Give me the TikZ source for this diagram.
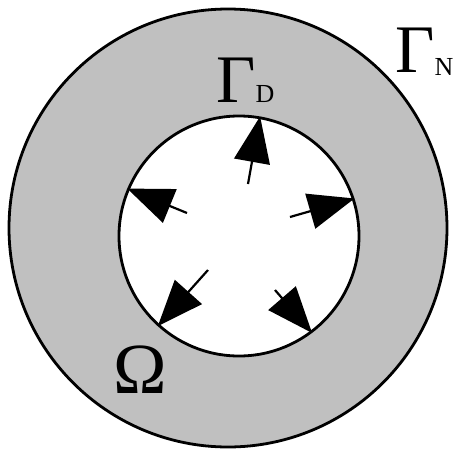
\documentclass[tikz,border=0pt]{standalone}
\usepackage{fontspec}
\setmainfont{Liberation Serif}
\usetikzlibrary{arrows.meta}
\definecolor{ringgray}{RGB}{192,192,192}
\tikzset{
  ring/.style={circle, draw=black, line width=2.8pt, inner sep=0pt},
  flux/.style={line width=2.2pt, -{Triangle[length=46pt,width=36pt]}},
  lbl/.style={inner sep=0pt, anchor=base west},
}
\begin{document}
\begin{tikzpicture}[x=1pt,y=-1pt]
\useasboundingbox (0,0) rectangle (453,456);
\node[ring, fill=ringgray, minimum size=438pt] (outer) at (228,228) {};
\node[ring, fill=white, minimum size=240pt] (inner) at (239,236) {};
\coordinate (t1) at (248,184);
\coordinate (t2) at (187,213);
\coordinate (t3) at (290,217);
\coordinate (t4) at (208,270);
\coordinate (t5) at (275,290);
\draw[flux] (t1) -- (inner.80);
\draw[flux] (t2) -- (inner.157);
\draw[flux] (t3) -- (inner.18);
\draw[flux] (t4) -- (inner.228);
\draw[flux] (t5) -- (inner.307);
\node[lbl] (gd) at (216,102) {\fontsize{68}{68}\selectfont Γ\fontsize{26}{26}\selectfont D};
\node[lbl] (gn) at (395,72) {\fontsize{68}{68}\selectfont Γ\raisebox{-3pt}{\fontsize{26}{26}\selectfont N}};
\node[lbl] (om) at (113,393) {\fontsize{72}{72}\selectfont Ω};
\end{tikzpicture}
\end{document}
